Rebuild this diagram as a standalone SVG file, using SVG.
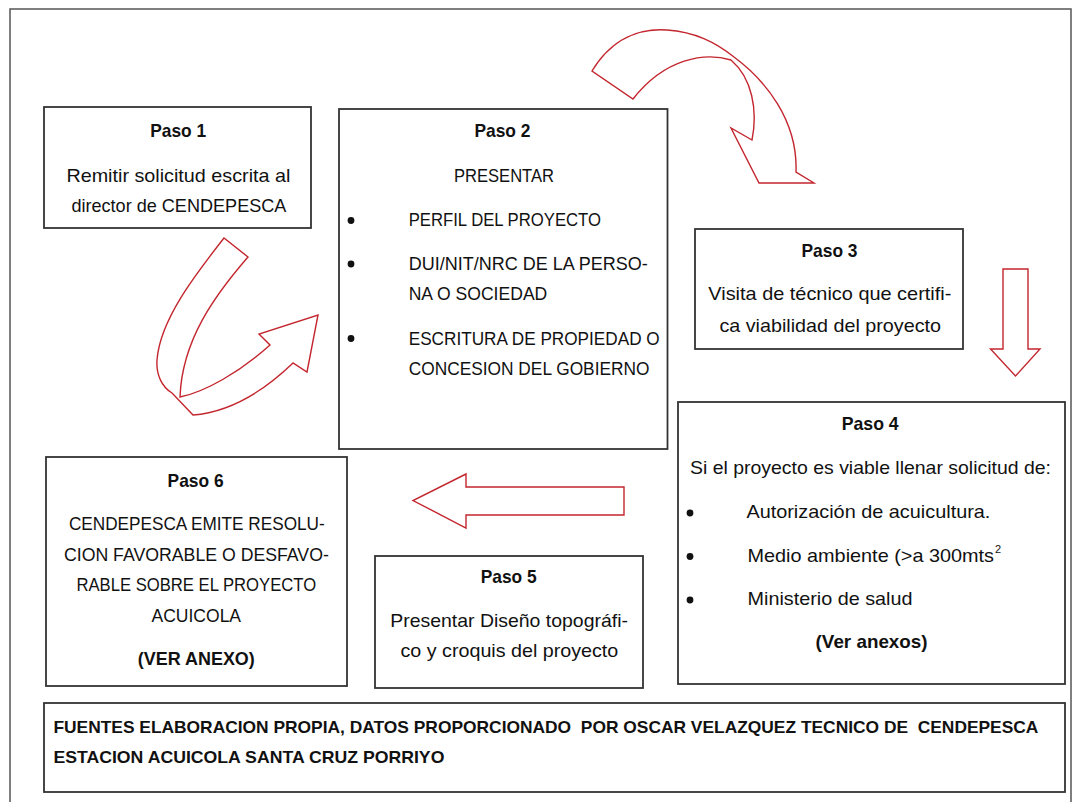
<svg xmlns="http://www.w3.org/2000/svg" width="1073" height="802" viewBox="0 0 1073 802">
<style>
text{font-family:"Liberation Sans",Arial,sans-serif;font-size:18.5px;fill:#111}
.t{font-weight:bold;text-anchor:middle}
.c{text-anchor:middle}
.b{font-weight:bold;font-size:17px}
.box{fill:#fff;stroke:#333;stroke-width:1.8}
.arr{fill:none;stroke:#c3262e;stroke-width:1.4;stroke-linejoin:miter}
.dot{fill:#111}
</style>
<rect width="1073" height="802" fill="#fff"/>
<rect x="10" y="9" width="1061" height="800" fill="none" stroke="#555" stroke-width="1.5"/>

<g id="connectors">
  <path class="arr" d="M224,238 C195,275 160,320 157,360 C156,375 162,387 172,393 L193,415 C230,412 265,390 293,363 L307,372 L318,315 L259,334 L270,345 C240,372 205,392 180,397 C182,340 215,295 248,257 Z"/>
  <path class="arr" d="M592,71 C612,38 640,28 667,30 C695,32 715,42 734,57 C765,80 798,120 796,172 L814,183 L759,183 L731,128 L752,140 C758,110 752,78 731,60 C705,52 665,58 633,99 Z"/>
  <path class="arr" d="M1003,269 L1028,269 L1028,349 L1040,349 L1015.5,376 L990.5,349 L1003,349 Z"/>
  <path class="arr" d="M624,487 L466,487 L466,474 L413,500.5 L466,528 L466,515 L624,515 Z"/>
</g>

<g id="paso1">
  <rect class="box" x="44" y="107" width="267" height="121"/>
  <text class="t" x="178.2" y="137" textLength="56" lengthAdjust="spacingAndGlyphs">Paso 1</text>
  <text class="c" x="178.4" y="181.5" textLength="224" lengthAdjust="spacingAndGlyphs">Remitir solicitud escrita al</text>
  <text class="c" x="178.9" y="211.5" textLength="215" lengthAdjust="spacingAndGlyphs">director de CENDEPESCA</text>
</g>

<g id="paso2">
  <rect class="box" x="339" y="109" width="328.5" height="340"/>
  <text class="t" x="502.4" y="137" textLength="56" lengthAdjust="spacingAndGlyphs">Paso 2</text>
  <text class="c" x="504" y="181.5" textLength="100" lengthAdjust="spacingAndGlyphs">PRESENTAR</text>
  <circle class="dot" cx="351" cy="220.5" r="3.4"/>
  <circle class="dot" cx="351" cy="264" r="3.4"/>
  <circle class="dot" cx="351" cy="338.5" r="3.4"/>
  <text x="408.7" y="226" textLength="192.3" lengthAdjust="spacingAndGlyphs">PERFIL DEL PROYECTO</text>
  <text x="408.7" y="270" textLength="239" lengthAdjust="spacingAndGlyphs">DUI/NIT/NRC DE LA PERSO-</text>
  <text x="408.7" y="300" textLength="138.6" lengthAdjust="spacingAndGlyphs">NA O SOCIEDAD</text>
  <text x="408.7" y="345" textLength="251" lengthAdjust="spacingAndGlyphs">ESCRITURA DE PROPIEDAD O</text>
  <text x="408.7" y="375" textLength="240.8" lengthAdjust="spacingAndGlyphs">CONCESION DEL GOBIERNO</text>
</g>

<g id="paso3">
  <rect class="box" x="695" y="229" width="268" height="120"/>
  <text class="t" x="829.5" y="257" textLength="56" lengthAdjust="spacingAndGlyphs">Paso 3</text>
  <text class="c" x="829.8" y="300" textLength="243" lengthAdjust="spacingAndGlyphs">Visita de técnico que certifi-</text>
  <text class="c" x="830.2" y="331.5" textLength="221.6" lengthAdjust="spacingAndGlyphs">ca viabilidad del proyecto</text>
</g>

<g id="paso4">
  <rect class="box" x="678" y="402" width="387" height="282"/>
  <text class="t" x="870.2" y="430" textLength="57" lengthAdjust="spacingAndGlyphs">Paso 4</text>
  <text class="c" x="870.5" y="473.5" textLength="361" lengthAdjust="spacingAndGlyphs">Si el proyecto es viable llenar solicitud de:</text>
  <circle class="dot" cx="690" cy="513" r="3.4"/>
  <circle class="dot" cx="690" cy="556.5" r="3.4"/>
  <circle class="dot" cx="690" cy="600" r="3.4"/>
  <text x="746.4" y="518.3" textLength="244" lengthAdjust="spacingAndGlyphs">Autorización de acuicultura.</text>
  <text x="747.5" y="561.7" textLength="246.5" lengthAdjust="spacingAndGlyphs">Medio ambiente (&gt;a 300mts</text>
  <text x="995" y="553" style="font-size:11px">2</text>
  <text x="747.5" y="605" textLength="165" lengthAdjust="spacingAndGlyphs">Ministerio de salud</text>
  <text class="t" x="871.6" y="648.3" textLength="112" lengthAdjust="spacingAndGlyphs">(Ver anexos)</text>
</g>

<g id="paso5">
  <rect class="box" x="375" y="556" width="268" height="132"/>
  <text class="t" x="508.7" y="583.3" textLength="56" lengthAdjust="spacingAndGlyphs">Paso 5</text>
  <text class="c" x="509.1" y="626.7" textLength="237.8" lengthAdjust="spacingAndGlyphs">Presentar Diseño topográfi-</text>
  <text class="c" x="509.4" y="656.7" textLength="217.8" lengthAdjust="spacingAndGlyphs">co y croquis del proyecto</text>
</g>

<g id="paso6">
  <rect class="box" x="46" y="457" width="301" height="229"/>
  <text class="t" x="195.6" y="486.7" textLength="56" lengthAdjust="spacingAndGlyphs">Paso 6</text>
  <text class="c" x="196.8" y="530" textLength="255.8" lengthAdjust="spacingAndGlyphs">CENDEPESCA EMITE RESOLU-</text>
  <text class="c" x="196.4" y="560.7" textLength="264.9" lengthAdjust="spacingAndGlyphs">CION FAVORABLE O DESFAVO-</text>
  <text class="c" x="196.3" y="590.7" textLength="239.7" lengthAdjust="spacingAndGlyphs">RABLE SOBRE EL PROYECTO</text>
  <text class="c" x="196.3" y="621.7" textLength="89.5" lengthAdjust="spacingAndGlyphs">ACUICOLA</text>
  <text class="t" x="196.3" y="665" textLength="117" lengthAdjust="spacingAndGlyphs">(VER ANEXO)</text>
</g>

<g id="fuentes">
  <rect class="box" x="44" y="703" width="1021" height="89"/>
  <text class="b" x="53.4" y="733" textLength="985" lengthAdjust="spacingAndGlyphs">FUENTES ELABORACION PROPIA, DATOS PROPORCIONADO<tspan xml:space="preserve">  </tspan>POR OSCAR VELAZQUEZ TECNICO DE<tspan xml:space="preserve">  </tspan>CENDEPESCA</text>
  <text class="b" x="53.4" y="763" textLength="391" lengthAdjust="spacingAndGlyphs">ESTACION ACUICOLA SANTA CRUZ PORRIYO</text>
</g>
</svg>
